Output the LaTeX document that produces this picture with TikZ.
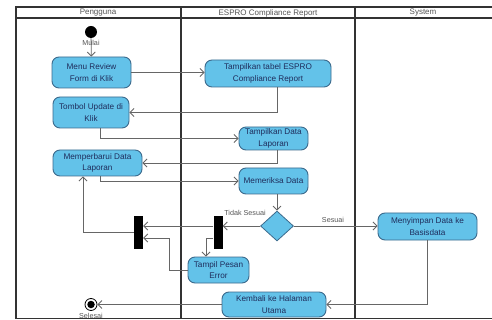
\documentclass[tikz,border=0pt]{standalone}
\usepackage{fontspec}
\setmainfont{Liberation Sans}
\usetikzlibrary{arrows.meta,shapes.geometric,calc}
\definecolor{actfill}{HTML}{63C2E9}
\definecolor{actline}{HTML}{3C6A8C}
\definecolor{acttext}{HTML}{1F2D5C}
\definecolor{flowline}{HTML}{666666}
\definecolor{laneline}{HTML}{333333}
\definecolor{labeltext}{HTML}{555555}
\tikzset{
  activity/.style={draw=actline, line width=0.9pt, fill=actfill, rounded corners=7pt,
    align=center, inner sep=1pt, text=acttext,
    font=\fontsize{8.2}{11.5}\selectfont},
  choice/.style={diamond, draw=actline, line width=0.8pt, fill=actfill, inner sep=0pt,
    minimum width=33pt, minimum height=30pt},
  syncbar/.style={rectangle, fill=black, draw=none, minimum width=9pt, minimum height=33pt, inner sep=0pt},
  flow/.style={draw=flowline, line width=0.8pt, -{Straight Barb[length=4pt,width=8pt]}},
  guard/.style={text=labeltext, font=\fontsize{7.2}{8}\selectfont, inner sep=0pt},
  lanehead/.style={text=labeltext, font=\fontsize{8}{9}\selectfont, inner sep=0pt},
}
\begin{document}
\begin{tikzpicture}[x=1pt,y=-1pt]
\useasboundingbox (0,0) rectangle (492,320);

% swimlane frame
\draw[laneline, line width=1.1pt] (16,318.5) -- (16,7) -- (492,7);
\draw[laneline, line width=1.1pt] (16,18) -- (492,18);
\draw[laneline, line width=0.9pt] (16,318.5) -- (492,318.5);
\draw[laneline, line width=1.6pt] (181,7) -- (181,318.5);
\draw[laneline, line width=1.6pt] (355,7) -- (355,318.5);

\node[lanehead] (h1) at (98,13) {Pengguna};
\node[lanehead] (h2) at (268,13) {ESPRO Compliance Report};
\node[lanehead] (h3) at (423,13) {System};

% initial and final states
\node[circle, fill=black, minimum size=12pt, inner sep=0pt] (start) at (91,32) {};
\node[circle, draw=black, line width=0.8pt, minimum size=12pt, inner sep=0pt] (end) at (91,304.5) {};
\node[circle, fill=black, minimum size=7.5pt, inner sep=0pt] (endcore) at (91,304.5) {};

% activities
\node[activity, minimum width=79pt, minimum height=31pt] (menu) at (91.5,72.5) {Menu Review\\Form di Klik};
\node[activity, minimum width=126pt, minimum height=27pt] (tabel) at (268,73.5) {Tampilkan tabel ESPRO\\Compliance Report};
\node[activity, minimum width=76pt, minimum height=31pt] (tombol) at (91,112.5) {Tombol Update di\\Klik};
\node[activity, minimum width=69pt, minimum height=23pt] (tampdata) at (273.5,138.5) {Tampilkan Data\\Laporan};
\node[activity, minimum width=89pt, minimum height=26pt] (perbarui) at (97.5,163) {Memperbarui Data\\Laporan};
\node[activity, minimum width=69pt, minimum height=26pt] (periksa) at (273.5,181) {Memeriksa Data};
\node[choice] (dia) at (277,226) {};
\node[syncbar] (bar2) at (218,232.5) {};
\node[syncbar] (bar1) at (138.5,232.5) {};
\node[activity, minimum width=61pt, minimum height=26pt] (pesan) at (218.5,270) {Tampil Pesan\\Error};
\node[activity, minimum width=99pt, minimum height=27pt] (simpan) at (427.5,226.5) {Menyimpan Data ke\\Basisdata};
\node[activity, minimum width=104pt, minimum height=25pt] (kembali) at (274,304.5) {Kembali ke Halaman\\Utama};

% control flows
\draw[flow] (start) -- (menu);
\draw[flow] (menu.east) -- (menu.east -| tabel.west);
\draw[flow] ([xshift=9pt]tabel.south) |- (tombol);
\draw[flow] ([xshift=9pt]tombol.south) |- (tampdata);
\draw[flow] ([xshift=3.5pt]tampdata.south) |- (perbarui);
\draw[flow] ([xshift=2.5pt]perbarui.south) |- (periksa);
\draw[flow] (periksa.south -| dia) -- (dia.north);
\draw[flow] (dia.west) -- (dia.west -| bar2.east);
\draw[flow] (bar2.west |- dia.west) -- (bar1.east |- dia.west);
\draw[flow] ([yshift=-5.5pt]bar2.west) -| ([xshift=-12.5pt]pesan.north);
\draw[flow] (pesan.west) -- ++(-18,0) |- ([yshift=-5.5pt]bar1.east);
\draw[flow] (bar1.west) -| ([xshift=-14.5pt]perbarui.south);
\draw[flow] (dia.east) -- (dia.east -| simpan.west);
\draw[flow] (simpan.south) |- (kembali.east);
\draw[flow] (kembali.west) -- (end.east);

% labels
\node[guard] (mulai) at (91,43) {Mulai};
\node[guard] (selesai) at (91,316) {Selesai};
\node[guard] (tidak) at (245,213) {Tidak Sesuai};
\node[guard] (sesuai) at (333,220) {Sesuai};
\end{tikzpicture}
\end{document}
